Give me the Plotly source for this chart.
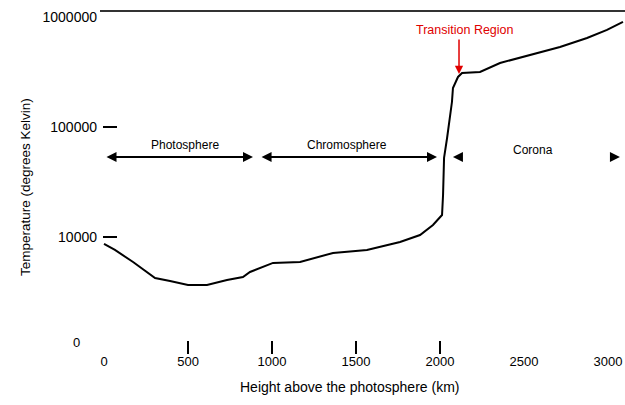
import math
import plotly.graph_objects as go

# Temperature profile of the solar atmosphere
height_km = [0, 65, 173, 304, 393, 500, 613, 732, 827, 869, 1006, 1167, 1363,
             1565, 1762, 1881, 1958, 2012, 2018, 2024, 2042, 2071, 2077, 2107,
             2131, 2238, 2357, 2536, 2714, 2875, 2994, 3089]
temperature_k = [8640, 7620, 5930, 4240, 3980, 3660, 3660, 4070, 4330, 4810,
                 5810, 5930, 7160, 7620, 9010, 10420, 12850, 15850, 24100,
                 52300, 79400, 168700, 226300, 285000, 309500, 316000, 381700,
                 451600, 533800, 644200, 762800, 901600]

x_tick_vals = [0, 500, 1000, 1500, 2000, 2500, 3000]
x_tick_text = ["0", "500", "1000", "1500", "2000", "2500", "3000"]
x_marked_ticks = [500, 1000, 1500, 2000]
y_tick_vals = [1e4, 1e5, 1e6]
y_tick_text = ["10000", "100000", "1000000"]
y_marked_ticks = [1e4, 1e5]

# Layer extents (km) and the temperature level the span arrows sit on
photosphere_span = (6, 887)
chromosphere_span = (929, 1982)
corona_span = (2077, 3071)
span_level_k = 53400
layer_labels = [("Photosphere", 482, 68600),
                ("Chromosphere", 1446, 68600),
                ("Corona", 2554, 61800)]
transition_km = 2113
transition_tip_k = 303000
transition_label = (2150, 762000)

FONT = "Liberation Sans, Arial, sans-serif"
x_range = [-6, 3101]
y_range = [3.0636, 6.0636]

fig = go.Figure()
fig.add_trace(go.Scatter(x=height_km, y=temperature_k, mode="lines",
                         line=dict(color="black", width=2),
                         showlegend=False, hoverinfo="skip"))
# helper traces so the tick-only overlay axes are drawn
fig.add_trace(go.Scatter(x=[1000], y=[1e4], xaxis="x2", yaxis="y",
                         mode="markers", marker=dict(opacity=0),
                         showlegend=False, hoverinfo="skip"))
fig.add_trace(go.Scatter(x=[1000], y=[1e4], xaxis="x", yaxis="y2",
                         mode="markers", marker=dict(opacity=0),
                         showlegend=False, hoverinfo="skip"))

lg = math.log10
annotations = []

# double-headed span arrows
for a, b in (photosphere_span, chromosphere_span):
    annotations.append(dict(
        x=b, y=lg(span_level_k), ax=a, ay=lg(span_level_k),
        xref="x", yref="y", axref="x", ayref="y", text="",
        showarrow=True, arrowhead=2, arrowsize=1, arrowwidth=2,
        arrowside="end+start", startarrowhead=2, startarrowsize=1,
        arrowcolor="black"))
# corona: heads only, no shaft
annotations.append(dict(x=corona_span[0], y=lg(span_level_k), ax=10, ay=0,
                        xref="x", yref="y", text="", showarrow=True,
                        arrowhead=2, arrowsize=1, arrowwidth=2,
                        arrowcolor="black"))
annotations.append(dict(x=corona_span[1], y=lg(span_level_k), ax=-10, ay=0,
                        xref="x", yref="y", text="", showarrow=True,
                        arrowhead=2, arrowsize=1, arrowwidth=2,
                        arrowcolor="black"))

# layer names
for name, xk, yk in layer_labels:
    annotations.append(dict(x=xk, y=lg(yk), xref="x", yref="y", text=name,
                            showarrow=False, font=dict(size=12, color="black",
                                                       family=FONT)))

# transition region callout
annotations.append(dict(x=transition_km, y=lg(transition_tip_k), ax=0, ay=-36,
                        xref="x", yref="y", text="", showarrow=True,
                        arrowhead=2, arrowsize=1.1, arrowwidth=1.5,
                        arrowcolor="#e00000"))
annotations.append(dict(x=transition_label[0], y=lg(transition_label[1]),
                        xref="x", yref="y", text="Transition Region",
                        showarrow=False,
                        font=dict(size=12.5, color="#e00000", family=FONT)))

# origin label and axis titles
annotations.append(dict(x=-27 / 522, y=-2 / 330, xref="paper", yref="paper",
                        xanchor="center", yanchor="middle",
                        text="0", showarrow=False,
                        font=dict(size=13, color="black", family=FONT)))
annotations.append(dict(x=(349 - 103) / 522, y=-47 / 330, xref="paper",
                        yref="paper", xanchor="center", yanchor="middle",
                        text="Height above the photosphere (km)",
                        showarrow=False,
                        font=dict(size=14, color="black", family=FONT)))
annotations.append(dict(x=-78 / 522, y=(340 - 187) / 330, xref="paper",
                        yref="paper", xanchor="center", yanchor="middle",
                        text="Temperature (degrees Kelvin)",
                        textangle=-90, showarrow=False,
                        font=dict(size=13.5, color="black", family=FONT)))

fig.update_layout(
    width=625, height=405,
    margin=dict(l=103, r=0, t=10, b=65),
    paper_bgcolor="white", plot_bgcolor="white",
    font=dict(family=FONT, size=13, color="black"),
    showlegend=False,
    annotations=annotations,
    shapes=[dict(type="line", xref="paper", yref="paper",
                 x0=-3 / 522, x1=1, y0=329 / 330, y1=329 / 330,
                 line=dict(color="#333333", width=2))],
    xaxis=dict(range=x_range, tickmode="array", tickvals=x_tick_vals,
               ticktext=x_tick_text, ticks="outside", ticklen=9,
               tickcolor="rgba(0,0,0,0)", showgrid=False, zeroline=False,
               showline=False, tickfont=dict(size=13)),
    xaxis2=dict(range=x_range, overlaying="x", anchor="y", side="bottom",
                tickmode="array", tickvals=x_marked_ticks, ticks="outside",
                ticklen=13, tickwidth=2, tickcolor="black",
                showticklabels=False, showgrid=False, zeroline=False,
                showline=False),
    yaxis=dict(type="log", range=y_range, tickmode="array",
               tickvals=y_tick_vals, ticktext=y_tick_text, ticks="",
               ticklabelstandoff=5,
               showgrid=False, zeroline=False, showline=False,
               tickfont=dict(size=14)),
    yaxis2=dict(type="log", range=y_range, overlaying="y", anchor="x",
                side="left", tickmode="array", tickvals=y_marked_ticks,
                ticks="inside", ticklen=14, tickwidth=2, tickcolor="black",
                showticklabels=False, showgrid=False, zeroline=False,
                showline=False),
)

fig.write_html("out.html")
